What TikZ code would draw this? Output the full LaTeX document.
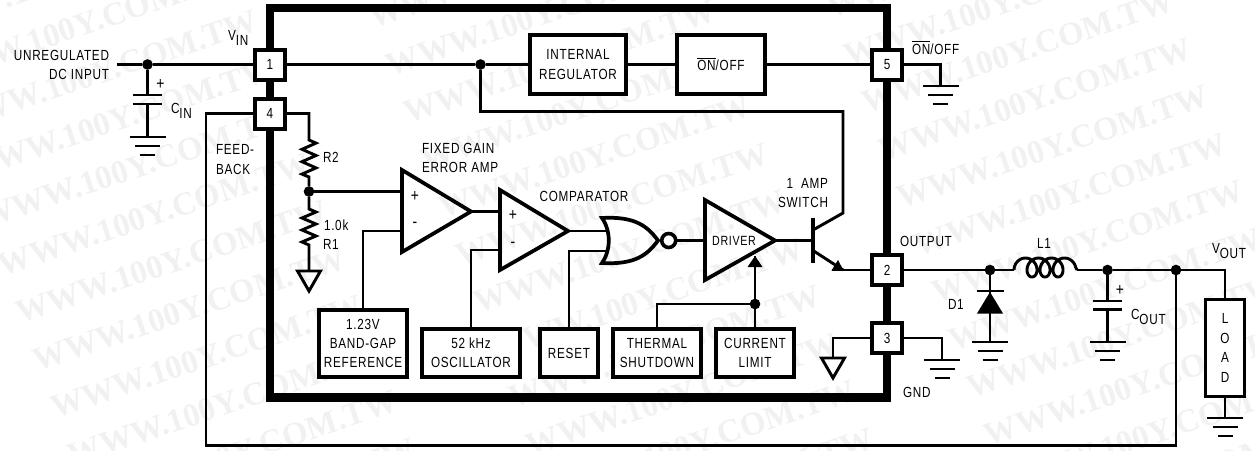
\documentclass[tikz,border=0pt]{standalone}
\usepackage{fontspec}
\setmainfont[FakeStretch=0.8,LetterSpace=5]{Liberation Sans}
\newfontfamily\wmfont{Liberation Serif}[BoldFont=Liberation Serif Bold]
\newcommand{\ovl}[1]{\leavevmode\vbox{\hrule height .8pt \kern 1.1pt \hbox{#1}}}
\newcommand{\lowr}[1]{\raisebox{-4pt}{#1}}
\definecolor{wm}{gray}{0.945}
\tikzset{
  x=0.75pt,y=-0.75pt,
  every node/.style={inner sep=0pt,outer sep=0pt,font=\fontsize{11}{14.5}\selectfont,text=black},
  wire/.style={line width=2.2pt,line join=miter},
  heavy/.style={line width=2.8pt,line join=miter,miter limit=8},
  frame/.style={line width=6.5pt,line join=miter},
  pinbox/.style={draw,fill=white,line width=3pt,minimum width=22.5pt,minimum height=22.5pt,outer sep=1.5pt},
  block/.style={draw,fill=white,line width=2.8pt,align=center,outer sep=1.4pt},
  dotn/.style={circle,fill=black,minimum size=8pt},
  lbl/.style={anchor=base west},
  sgn/.style={font=\fontsize{13}{14}\selectfont},
  wmark/.style={font=\wmfont\bfseries\fontsize{24.75}{25}\selectfont,text=wm,rotate=18.5,anchor=north west},
  gndsym/.pic={
    \draw[wire] (-18,0) -- (18,0);
    \draw[wire] (-12.5,9) -- (12.5,9);
    \draw[wire] (-7.5,18) -- (7.5,18);
  },
  gtri/.pic={\draw[wire,line join=miter] (-11.5,0) -- (11.5,0) -- (0,20) -- cycle;},
}
\begin{document}
\begin{tikzpicture}
\useasboundingbox (0,0) rectangle (1255,450);
% faint repeated print of the reference
\begin{scope}
\clip (0,0) rectangle (1255,450);
\foreach \i in {0,...,3}{
  \foreach \j in {-8,...,5}{
    \node[wmark] (wm\i-\j) at ({13.3+458*\i+17.5*\j},{303-10*\i+47.5*\j}) {WWW.100Y.COM.TW};
  }
}
\end{scope}
% chip outline
\draw[frame] (270,8) rectangle (887,397.5);
% pins
\node[pinbox] (p1) at (270,64.5) {1};
\node[pinbox] (p4) at (270,113.5) {4};
\node[pinbox] (p5) at (887,64.5) {5};
\node[pinbox] (p2) at (887,270) {2};
\node[pinbox] (p3) at (887,338) {3};
% blocks
\node[block,minimum width=72pt,minimum height=44.5pt] (reg) at (578,64.5) {INTERNAL\\REGULATOR};
\node[block,minimum width=66pt,minimum height=44.5pt] (onoff) at (721,64.5) {\ovl{ON}/OFF};
\node[block,minimum width=66pt,minimum height=50pt] (bg) at (363,343.5) {1.23V\\BAND-GAP\\REFERENCE};
\node[block,minimum width=73.5pt,minimum height=36pt] (osc) at (471,353) {52 kHz\\OSCILLATOR};
\node[block,minimum width=43.5pt,minimum height=36pt] (rst) at (569,353) {RESET};
\node[block,minimum width=66pt,minimum height=36pt] (th) at (657,353) {THERMAL\\SHUTDOWN};
\node[block,minimum width=58.5pt,minimum height=36pt] (cl) at (755,353) {CURRENT\\LIMIT};
\node[block,minimum width=29pt,minimum height=72.5pt,align=center,outer sep=1.3pt,line width=2.6pt] (load) at (1225,348) {L\\[0.3pt]O\\[0.3pt]A\\[0.3pt]D};
% junction dots
\node[dotn] (dvin) at (147.5,64.5) {};
\node[dotn] (dreg) at (480.5,64.5) {};
\node[dotn] (dfb) at (309,191.5) {};
\node[dotn] (dth) at (755,304) {};
\node[dotn] (dd1) at (990,270) {};
\node[dotn] (dl1) at (1107.5,270) {};
\node[dotn] (dvo) at (1176,270) {};
% named wire corners
\coordinate (in) at (117,64.5);
\coordinate (cintop) at (147.5,95);
\coordinate (cinbot) at (147.5,104);
\coordinate (cingnd) at (147.5,137);
\coordinate (fbl) at (206,113.5);
\coordinate (fbb) at (206,445.5);
\coordinate (fbr) at (1176,445.5);
\coordinate (r2t) at (309,113.5);
\coordinate (r2a) at (309,140);
\coordinate (r2b) at (309,177);
\coordinate (r1a) at (309,209);
\coordinate (r1b) at (309,245);
\coordinate (r1g) at (309,271);
\coordinate (eap) at (402,191.5);
\coordinate (eam) at (402,231);
\coordinate (eamc) at (363,231);
\coordinate (ea) at (471,211.5);
\coordinate (cpp) at (500,211.5);
\coordinate (cpm) at (500,250);
\coordinate (cpmc) at (471,250);
\coordinate (cp) at (568,231);
\coordinate (nora) at (606,231);
\coordinate (norb) at (607,251);
\coordinate (norbc) at (569,251);
\coordinate (drvin) at (705,240.5);
\coordinate (drv) at (775,240.5);
\coordinate (drvcl) at (755,256);
\coordinate (qb) at (813,240.5);
\coordinate (qc0) at (813,230);
\coordinate (qc1) at (843,213);
\coordinate (qc2) at (843,111.5);
\coordinate (qc3) at (480.5,111.5);
\coordinate (qe0) at (813,250.5);
\coordinate (qe1) at (843,270);
\coordinate (thc) at (657,304);
\coordinate (g5a) at (940.5,64.5);
\coordinate (g5b) at (940.5,86);
\coordinate (g3la) at (833,338);
\coordinate (g3lb) at (833,358);
\coordinate (g3ra) at (942,338);
\coordinate (g3rb) at (942,360);
\coordinate (dgnd) at (990,342);
\coordinate (la) at (1014,270);
\coordinate (lb) at (1077,270);
\coordinate (cotop) at (1107.5,301);
\coordinate (cobot) at (1107.5,309.5);
\coordinate (cognd) at (1107.5,342);
\coordinate (lc) at (1225,270);
\coordinate (lg) at (1225,418);
% wires
\draw[wire] (in) -- (dvin) -- (p1.west);
\draw[wire] (dvin) -- (cintop);
\draw[wire] (cinbot) -- (cingnd);
\draw[wire] (133,95) -- (162,95);
\draw[wire] (133,104) -- (162,104);
\pic at (cingnd) {gndsym};
\draw[wire] (p1.east) -- (dreg) -- (reg.west);
\draw[wire] (reg.east) -- (onoff.west);
\draw[wire] (onoff.east) -- (p5.west);
\draw[wire] (p5.east) -- (g5a) -- (g5b);
\pic at (g5b) {gndsym};
\draw[wire] (p4.west) -- (fbl) -- (fbb) -- (fbr) -- (dvo);
\draw[wire] (p4.east) -- (r2t) -- (r2a) -- ++(7,3.1) -- ++(-14,6.2) -- ++(14,6.2) -- ++(-14,6.2) -- ++(14,6.2) -- ++(-14,6.2) -- (r2b) -- (dfb);
\draw[wire] (dfb) -- (r1a) -- ++(7,3) -- ++(-14,6) -- ++(14,6) -- ++(-14,6) -- ++(14,6) -- ++(-14,6) -- (r1b) -- (r1g);
\pic at (r1g) {gtri};
\draw[wire] (dfb) -- (eap);
\draw[wire] (bg.north) -- (eamc) -- (eam);
\draw[wire] (ea) -- (cpp);
\draw[wire] (osc.north) -- (cpmc) -- (cpm);
\draw[wire] (cp) -- (nora);
\draw[wire] (rst.north) -- (norbc) -- (norb);
\draw[wire] (676,240.5) -- (drvin);
\draw[wire] (drv) -- (qb);
\draw[wire] (th.north) -- (thc) -- (dth);
\draw[wire] (cl.north) -- (dth) -- (drvcl);
\fill (drvcl) -- ++(-7.5,11) -- ++(15,0) -- cycle;
% amplifiers and gate
\draw[heavy] (402,170) -- (471,211.5) -- (402,252) -- cycle;
\draw[heavy] (500,190) -- (568,231) -- (500,270) -- cycle;
\draw[heavy] (705,200) -- (775,240.5) -- (705,280) -- cycle;
\draw[heavy] (602,218) .. controls (636,216) and (648,227) .. (658,240.5)
             .. controls (648,254) and (636,265) .. (602,263)
             .. controls (611,250) and (611,231) .. (602,218) -- cycle;
\node[circle,draw,fill=white,line width=2.7pt,minimum size=10.5pt] (bub) at (668.7,240.5) {};
% transistor
\draw[line width=2.6pt] (813,218) -- (813,263);
\draw[wire] (qc0) -- (qc1) -- (qc2) -- (qc3) -- (dreg);
\draw[wire] (qe0) -- (qe1);
\fill (843.5,270.5) -- (831.5,270.5) -- (838,260) -- cycle;
\draw[wire] (832,270) -- (p2.west);
% output side
\draw[wire] (p2.east) -- (dd1) -- (la);
\draw[wire] (dd1) -- (dgnd);
\draw[wire] (976.5,291) -- (1003.5,291);
\fill (990,292) -- (1003,313.5) -- (977,313.5) -- cycle;
\pic at (dgnd) {gndsym};
\draw[wire] (la) -- plot[domain=-90:1170,samples=130,smooth] ({1025.5+\x*13/360+8*sin(\x)},{267.5-9.5*cos(\x)}) -- (lb);
\draw[wire] (lb) -- (dl1) -- (dvo) -- (lc) -- (load.north);
\draw[wire] (dl1) -- (cotop);
\draw[wire] (cobot) -- (cognd);
\draw[wire] (1093,301) -- (1122,301);
\draw[wire] (1093,309.5) -- (1122,309.5);
\pic at (cognd) {gndsym};
\draw[wire] (load.south) -- (lg);
\pic at (lg) {gndsym};
\draw[wire] (p3.west) -- (g3la) -- (g3lb);
\pic at (g3lb) {gtri};
\draw[wire] (p3.east) -- (g3ra) -- (g3rb);
\pic at (g3rb) {gndsym};
% labels
\node[anchor=east,align=right] (tin) at (109,65) {UNREGULATED\\DC INPUT};
\node[lbl] (tvin) at (228,40) {V\lowr{IN}};
\node[sgn] (tcp1) at (160.5,84) {+};
\node[lbl] (tcin) at (171,113.5) {C\lowr{IN}};
\node[anchor=west,align=left] (tfb) at (216,159.5) {FEED-\\BACK};
\node[lbl] (tr2) at (323,162) {R2};
\node[lbl] (tk) at (324,230) {1.0k};
\node[lbl] (tr1) at (323,249) {R1};
\node[anchor=west,align=left] (tea) at (422,158) {FIXED GAIN\\ERROR AMP};
\node[sgn] (tp1) at (415,196) {+};
\node[sgn] (tm1) at (415,225) {-};
\node[sgn] (tp2) at (513,215.5) {+};
\node[sgn] (tm2) at (513,245) {-};
\node (tcmp) at (584,196) {COMPARATOR};
\node[font=\fontsize{10}{11}\selectfont] (tdrv) at (734,241) {DRIVER};
\node[anchor=east,align=right] (tsw) at (828,193) {1\ \ AMP\\SWITCH};
\node[lbl] (tonl) at (912,54) {\ovl{ON}/OFF};
\node[lbl] (tout) at (900,246) {OUTPUT};
\node[lbl] (tgnd) at (903,397) {GND};
\node[lbl] (td1) at (948,309) {D1};
\node[lbl] (tl1) at (1037,248) {L1};
\node[sgn] (tcp2) at (1120,290) {+};
\node[lbl] (tcout) at (1131,319) {C\lowr{OUT}};
\node[lbl] (tvout) at (1212,253) {V\lowr{OUT}};
\end{tikzpicture}
\end{document}
